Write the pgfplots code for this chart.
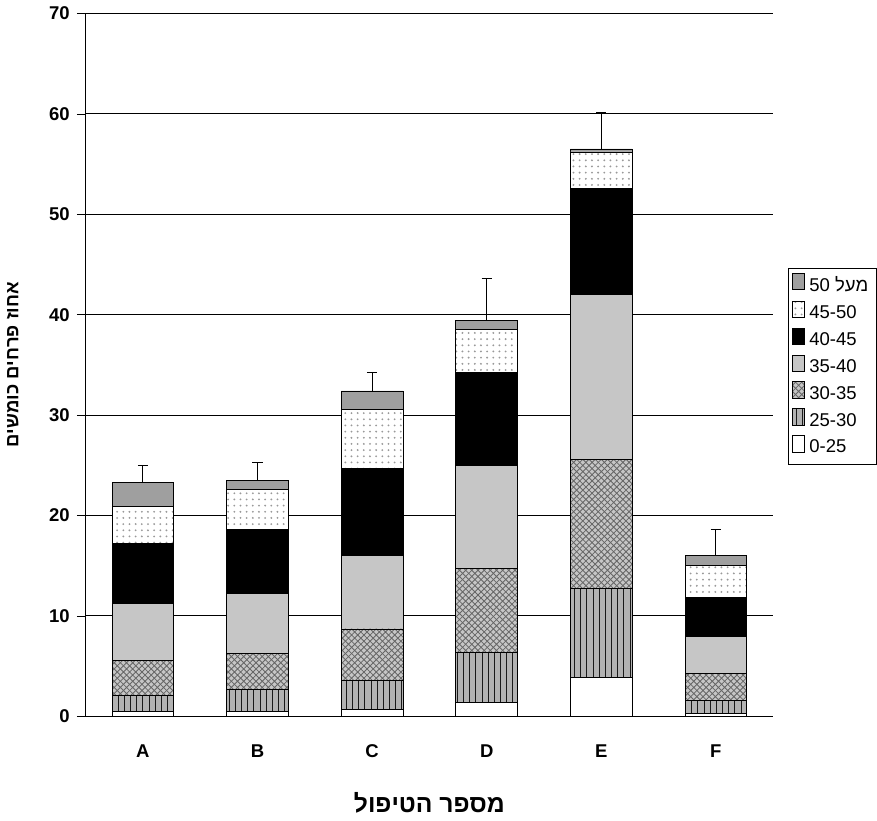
\documentclass[border=0pt]{standalone}
\usepackage{pgfplots}
\pgfplotsset{compat=1.18}
\usepackage{fontspec}
\setmainfont{Liberation Sans}
\TeXXeTstate=1
\usetikzlibrary{patterns}
\begin{document}
\begin{tikzpicture}
\begin{axis}[
  scale only axis, width=334.5pt, height=342pt,
  ybar stacked, bar width=30pt,
  xmin=-0.5, xmax=5.5, ymin=0, ymax=70,
  xtick={0,...,5}, xticklabels={A,B,C,D,E,F}, xtick style={draw=none},
  ytick={0,10,...,70}, ytick style={black}, tick align=outside,
  ymajorgrids, grid style={black, line width=0.5pt},
  axis x line*=bottom, axis y line*=left,
  tick label style={font=\bfseries\small},
  xticklabel style={yshift=-6pt},
  /pgf/number format/assume math mode=true,
  ylabel={\bfseries\beginR אחוז פרחים כומשים\endR}, ylabel style={font=\small, yshift=8pt},
  xlabel={\bfseries\beginR מספר הטיפול\endR}, xlabel style={font=\large, yshift=-10pt},
  reverse legend,
  legend style={at={(1.021,0.358)}, anchor=south west, font=\small, draw=black, row sep=1pt, inner sep=2pt},
  legend cell align=left,
  every axis plot/.append style={draw=black, line width=0.4pt},
]
\addplot[fill=white] coordinates {(0,0.5)(1,0.5)(2,0.7)(3,1.4)(4,3.9)(5,0.3)};
\addlegendentry{0-25}
\addplot[fill=gray!60, postaction={pattern=vertical lines, pattern color=black!90}] coordinates {(0,1.6)(1,2.2)(2,2.9)(3,5.0)(4,8.8)(5,1.3)};
\addlegendentry{25-30}
\addplot[fill=gray!45, postaction={pattern=crosshatch, pattern color=black!60}] coordinates {(0,3.5)(1,3.6)(2,5.1)(3,8.3)(4,12.9)(5,2.7)};
\addlegendentry{30-35}
\addplot[fill=gray!45] coordinates {(0,5.6)(1,5.9)(2,7.3)(3,10.3)(4,16.4)(5,3.7)};
\addlegendentry{35-40}
\addplot[fill=black] coordinates {(0,6.0)(1,6.4)(2,8.7)(3,9.2)(4,10.6)(5,3.8)};
\addlegendentry{40-45}
\addplot[fill=white, postaction={pattern=dots, pattern color=black!40}] coordinates {(0,3.7)(1,4.0)(2,5.9)(3,4.3)(4,3.6)(5,3.2)};
\addlegendentry{45-50}
\addplot[fill=gray!75, error bars/.cd, y dir=plus, y explicit, error bar style={black}, error mark options={rotate=90,mark size=2.5pt,black}] coordinates {(0,2.4) +- (0,1.7) (1,0.9) +- (0,1.8) (2,1.8) +- (0,1.8) (3,0.9) +- (0,4.2) (4,0.3) +- (0,3.6) (5,1.0) +- (0,2.6)};
\addlegendentry{50 {\beginR מעל\endR}}
\end{axis}
\end{tikzpicture}
\end{document}
